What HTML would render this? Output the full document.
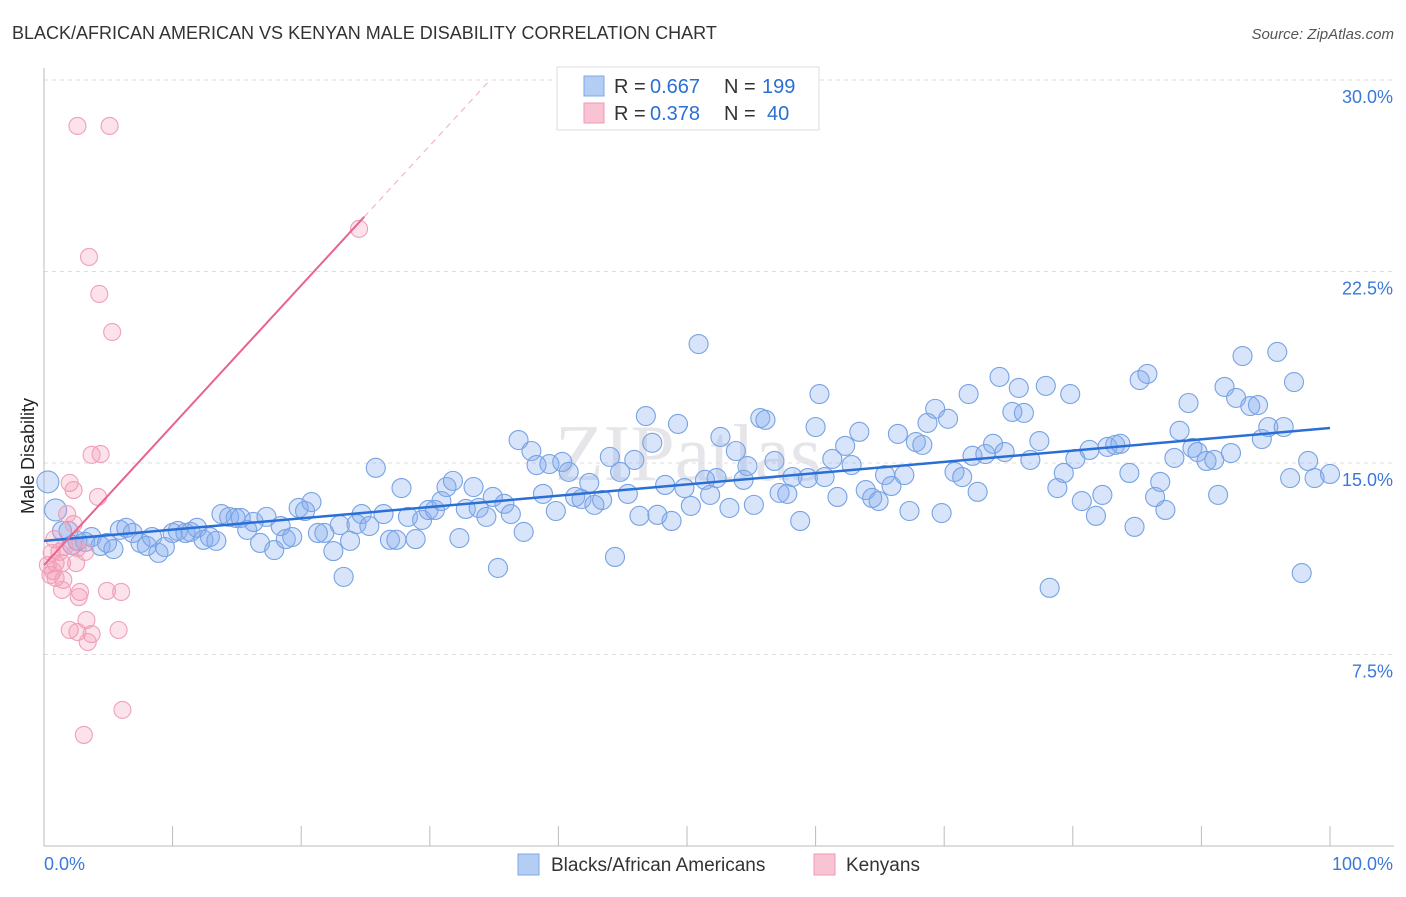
<!DOCTYPE html>
<html><head><meta charset="utf-8"><style>
body{margin:0;background:#fff;font-family:"Liberation Sans",sans-serif;}
</style></head><body>
<svg id="chart" width="1406" height="892" xmlns="http://www.w3.org/2000/svg" font-family="Liberation Sans, sans-serif">
<text x="12" y="39" font-size="18" fill="#333">BLACK/AFRICAN AMERICAN VS KENYAN MALE DISABILITY CORRELATION CHART</text>
<text x="1394" y="39" font-size="15" fill="#555" text-anchor="end" font-style="italic">Source: ZipAtlas.com</text>
<text x="688" y="480" font-size="80" fill="#e6e6ea" text-anchor="middle" font-family="Liberation Serif, serif">ZIPatlas</text>
<g id="grid"></g>
<g id="axes"></g>
<g id="marks"></g>
<text transform="translate(34,456) rotate(-90)" font-size="18" fill="#222" text-anchor="middle">Male Disability</text>
<g>
<rect x="557" y="67" width="262" height="63" fill="#fff" stroke="#ddd"/>
<rect x="584" y="76" width="20" height="20" fill="#b3cdf3" stroke="#7fa8e6"/>
<text x="614" y="93" font-size="20" fill="#333">R =</text>
<text x="650" y="93" font-size="20" fill="#2a6fd6">0.667</text>
<text x="724" y="93" font-size="20" fill="#333">N =</text>
<text x="762" y="93" font-size="20" fill="#2a6fd6">199</text>
<rect x="584" y="103" width="20" height="20" fill="#f8c3d3" stroke="#ee9ab4"/>
<text x="614" y="120" font-size="20" fill="#333">R =</text>
<text x="650" y="120" font-size="20" fill="#2a6fd6">0.378</text>
<text x="724" y="120" font-size="20" fill="#333">N =</text>
<text x="767" y="120" font-size="20" fill="#2a6fd6">40</text>
</g>
<g>
<rect x="518" y="854" width="21" height="21" fill="#b3cdf3" stroke="#7fa8e6"/>
<text x="551" y="871" font-size="19" fill="#333">Blacks/African Americans</text>
<rect x="814" y="854" width="21" height="21" fill="#f8c3d3" stroke="#ee9ab4"/>
<text x="846" y="871" font-size="19" fill="#333">Kenyans</text>
</g>
</svg>
<script>
const blueX=[0.3,0.9,1.4,1.9,2.2,2.6,3.2,3.7,4.4,4.9,5.4,5.9,6.4,6.9,7.5,8.0,8.4,8.9,9.4,10.0,10.4,11.0,11.4,11.9,12.4,12.9,13.4,13.8,14.4,14.9,15.3,15.8,16.3,16.8,17.3,17.9,18.4,18.8,19.3,19.8,20.3,20.8,21.3,21.8,22.5,23.0,23.3,23.8,24.3,24.7,25.3,25.8,26.4,26.9,27.4,27.8,28.3,28.9,29.4,29.9,30.4,30.9,31.3,31.8,32.3,32.8,33.4,33.8,34.4,34.9,35.3,35.8,36.3,36.9,37.3,37.9,38.3,38.8,39.3,39.8,40.3,40.8,41.3,41.8,42.4,42.8,43.4,44.0,44.4,44.8,45.4,45.9,46.3,46.8,47.3,47.7,48.3,48.8,49.3,49.8,50.3,50.9,51.4,51.8,52.3,52.6,53.3,53.8,54.4,54.7,55.2,55.7,56.1,56.8,57.2,57.8,58.2,58.8,59.4,60.0,60.3,60.7,61.3,61.7,62.3,62.8,63.4,63.9,64.4,64.9,65.4,65.9,66.4,66.9,67.3,67.8,68.3,68.7,69.3,69.8,70.3,70.8,71.4,71.9,72.2,72.6,73.2,73.8,74.3,74.7,75.3,75.8,76.2,76.7,77.4,77.9,78.2,78.8,79.3,79.8,80.2,80.7,81.3,81.8,82.3,82.7,83.3,83.7,84.4,84.8,85.2,85.8,86.4,86.8,87.2,87.9,88.3,89.0,89.3,89.7,90.4,91.0,91.3,91.8,92.3,92.7,93.2,93.8,94.4,94.7,95.2,95.9,96.4,96.9,97.2,97.8,98.3,98.8,100.0];
const blueY=[14.26,13.16,12.34,12.34,11.79,11.95,11.91,12.10,11.75,11.87,11.63,12.38,12.46,12.26,11.87,11.75,12.10,11.48,11.71,12.26,12.34,12.26,12.30,12.46,11.99,12.10,11.95,13.00,12.89,12.85,12.85,12.38,12.69,11.87,12.89,11.59,12.53,12.02,12.10,13.24,13.12,13.47,12.26,12.26,11.55,12.57,10.54,11.95,12.61,13.00,12.53,14.81,13.00,11.99,11.99,14.02,12.89,12.02,12.77,13.16,13.16,13.51,14.06,14.30,12.06,13.20,14.06,13.24,12.89,13.67,10.89,13.40,13.00,15.90,12.30,15.47,14.92,13.79,14.96,13.12,15.04,14.65,13.67,13.59,14.22,13.36,13.55,15.24,11.32,14.65,13.79,15.12,12.93,16.84,15.79,12.97,14.14,12.73,16.53,14.02,13.32,19.66,14.34,13.75,14.41,16.02,13.24,15.47,14.34,14.88,13.36,16.76,16.69,15.08,13.83,13.79,14.45,12.73,14.41,16.41,17.70,14.45,15.16,13.67,15.67,14.92,16.22,13.94,13.63,13.51,14.53,14.10,16.14,14.53,13.12,15.82,15.71,16.57,17.12,13.04,16.73,14.65,14.45,17.70,15.28,13.87,15.35,15.75,18.37,15.43,17.00,17.94,16.96,15.12,15.86,18.02,10.11,14.02,14.61,17.70,15.16,13.51,15.51,12.93,13.75,15.63,15.71,15.75,14.61,12.50,18.25,18.49,13.67,14.26,13.16,15.20,16.26,17.35,15.59,15.43,15.08,15.12,13.75,17.98,15.39,17.55,19.19,17.23,17.27,15.94,16.41,19.35,16.41,14.41,18.17,10.69,15.08,14.41,14.57];
const pinkX=[2.6,5.1,3.5,4.3,5.3,3.7,4.4,2.0,2.3,4.2,1.8,2.3,0.8,1.2,0.6,1.6,2.6,3.2,0.9,1.4,0.3,0.7,0.9,1.5,2.5,1.4,2.8,4.9,6.0,2.7,3.3,2.0,2.6,3.7,5.8,3.4,6.1,3.1,24.5,0.5];
const pinkY=[28.2,28.2,23.07,21.62,20.13,15.32,15.35,14.22,13.94,13.67,13.00,12.61,12.02,11.52,11.48,11.71,11.67,11.52,11.08,11.08,11.01,10.77,10.50,10.42,11.08,10.03,9.95,9.99,9.95,9.75,8.85,8.46,8.38,8.30,8.46,7.99,5.33,4.35,24.17,10.61];
const blueTrendX=[0,100];
const blueTrendY=[11.95,16.37];
const pinkTrendX=[0,24.9,34.6];
const pinkTrendY=[11.0,24.64,29.95];
const yTicks=[7.5,15.0,22.5,30.0];
const yTickLabels=["7.5%","15.0%","22.5%","30.0%"];
const xTicks=[0,10,20,30,40,50,60,70,80,90,100];

const NS="http://www.w3.org/2000/svg";
const X0=44,X1=1330,Y0=846,Y30=80;
function xs(v){return X0+(X1-X0)*v/100;}
function ys(v){return Y0-(Y0-Y30)*v/30;}
function mk(tag,attrs,parent){const e=document.createElementNS(NS,tag);for(const k in attrs)e.setAttribute(k,attrs[k]);parent.appendChild(e);return e;}
const grid=document.getElementById('grid'),axes=document.getElementById('axes'),marks=document.getElementById('marks');
yTicks.forEach((t,i)=>{
  const l=mk('line',{x1:X0,x2:1394,y1:ys(t),y2:ys(t),stroke:'#ddd','stroke-dasharray':'4,4'},grid);
  
  
  const tx=mk('text',{x:1393,y:ys(t)+23,'font-size':18,fill:'#3b78d8','text-anchor':'end'},axes);
  tx.textContent=yTickLabels[i];
  
  
});
const ax=mk('line',{x1:X0,x2:X0,y1:68,y2:Y0,stroke:'#bbb'},axes);


const bx=mk('line',{x1:X0,x2:1394,y1:Y0,y2:Y0,stroke:'#bbb'},axes);


xTicks.forEach(t=>{
  const l=mk('line',{x1:xs(t),x2:xs(t),y1:826,y2:Y0,stroke:'#bbb'},axes);
  
  
});
const xl0=mk('text',{x:44,y:870,'font-size':18,fill:'#3b78d8'},axes);xl0.textContent='0.0%';


const xl1=mk('text',{x:1393,y:870,'font-size':18,fill:'#3b78d8','text-anchor':'end'},axes);xl1.textContent='100.0%';


blueX.forEach((v,i)=>{
  const r=i<2?11:9.5;
  const c=mk('circle',{cx:xs(v),cy:ys(blueY[i]),r:r,fill:'rgba(130,172,238,0.32)',stroke:'#78a3e3','stroke-width':1.1},marks);
  
  
});
pinkX.forEach((v,i)=>{
  const c=mk('circle',{cx:xs(v),cy:ys(pinkY[i]),r:8.5,fill:'rgba(245,150,180,0.28)',stroke:'#f0a0b9','stroke-width':1.1},marks);
  
  
});
const bl=mk('line',{x1:xs(blueTrendX[0]),y1:ys(blueTrendY[0]),x2:xs(blueTrendX[1]),y2:ys(blueTrendY[1]),stroke:'#2a6fd6','stroke-width':2.5},marks);


const pl=mk('line',{x1:xs(pinkTrendX[0]),y1:ys(pinkTrendY[0]),x2:xs(pinkTrendX[1]),y2:ys(pinkTrendY[1]),stroke:'#e8648e','stroke-width':2},marks);


const pd=mk('line',{x1:xs(pinkTrendX[1]),y1:ys(pinkTrendY[1]),x2:xs(pinkTrendX[2]),y2:ys(pinkTrendY[2]),stroke:'#f0a8c0','stroke-width':1,'stroke-dasharray':'6,5'},marks);


</script>
</body></html>
